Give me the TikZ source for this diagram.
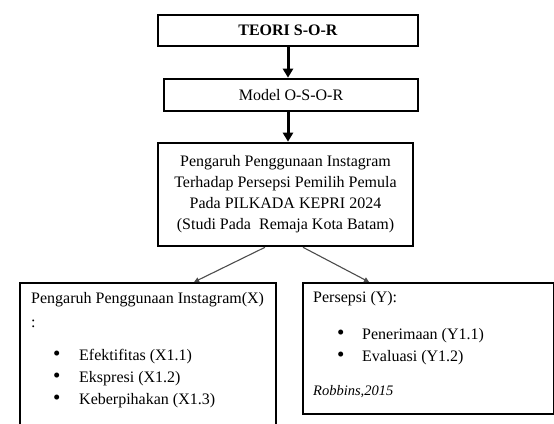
\documentclass[tikz,border=0pt]{standalone}
\usepackage{fontspec}
\setmainfont{Liberation Serif}
\usetikzlibrary{arrows.meta,positioning}

\newcommand{\listdot}{{\fontsize{21}{22}\selectfont\textbullet}}

\begin{document}
\begin{tikzpicture}[x=1pt,y=-1pt,
    headbox/.style={draw,line width=2.6pt,align=center,inner sep=0pt,font=\fontsize{16}{21}\selectfont},
    lowbox/.style={draw,line width=2.2pt},
    listtext/.style={anchor=north west,align=left,inner sep=0pt,font=\fontsize{16}{22}\selectfont},
    fatarrow/.style={line width=3pt,-{Triangle[length=9pt,width=10pt]}},
    thinarrow/.style={draw=black!70,line width=1.1pt,-{Triangle[length=5pt,width=5pt]}}]
  \clip (0,0) rectangle (554,423);
  \node[headbox,minimum width=260,minimum height=31] (teori) at (288,30.5) {\textbf{TEORI S-O-R}};
  \node[headbox,minimum width=254,minimum height=32] (model) at (291,95) {Model O-S-O-R};
  \node[headbox,minimum width=255,minimum height=103] (judul) at (285.5,194.5)
    {Pengaruh Penggunaan Instagram\\Terhadap Persepsi Pemilih Pemula\\Pada PILKADA KEPRI 2024\\(Studi Pada\ \ Remaja Kota Batam)};
  \node[lowbox,minimum width=256,minimum height=160,anchor=north west] (xbox) at (19,282) {};
  \node[lowbox,minimum width=251,minimum height=131,anchor=north west] (ybox) at (302,282) {};
  \node[listtext] (xlist) at ([shift={(12,10)}]xbox.north west)
    {Pengaruh Penggunaan Instagram(X)\\[2pt]
     :\\[11pt]
     \hspace*{22pt}\makebox[26pt][l]{\listdot}Efektifitas (X1.1)\\
     \hspace*{22pt}\makebox[26pt][l]{\listdot}Ekspresi (X1.2)\\
     \hspace*{22pt}\makebox[26pt][l]{\listdot}Keberpihakan (X1.3)};
  \node[listtext] (ylist) at ([shift={(11,9)}]ybox.north west)
    {Persepsi (Y):\\[15pt]
     \hspace*{24pt}\makebox[25pt][l]{\listdot}Penerimaan (Y1.1)\\
     \hspace*{24pt}\makebox[25pt][l]{\listdot}Evaluasi (Y1.2)\\[12pt]
     {\fontsize{14.5}{22}\selectfont\itshape Robbins,2015}};
  \draw[fatarrow] (teori.south) -- (teori.south |- model.north);
  \draw[fatarrow] (teori.south |- model.south) -- (teori.south |- judul.north);
  \draw[thinarrow] ([xshift=-20.5pt]judul.south) -- ([xshift=46pt]xbox.north);
  \draw[thinarrow] ([xshift=17.5pt]judul.south) -- ([xshift=-59.5pt]ybox.north);
\end{tikzpicture}
\end{document}
